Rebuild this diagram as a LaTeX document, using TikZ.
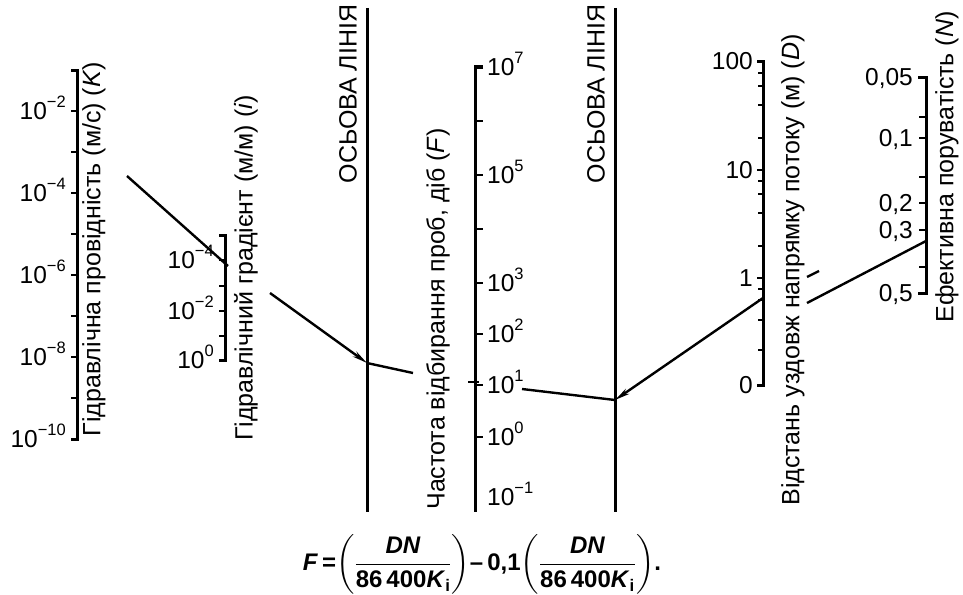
\documentclass[tikz,border=0pt]{standalone}
\usepackage{fontspec}
\setmainfont{Liberation Sans}
\usepackage{amsmath}
\usetikzlibrary{arrows.meta}
\newcommand{\tp}[1]{10\raisebox{0.45em}{\fontsize{16.5}{16.5}\selectfont #1}}
\newcommand{\frc}{\dfrac{\textbf{\textit{DN}}}{\textbf{86\,400\textit{K}\textsubscript{i}}}}
\begin{document}
\begin{tikzpicture}[x=1pt,y=-1pt,
  ax/.style={line width=3pt},
  tk/.style={line width=2.4pt},
  conn/.style={line width=2.4pt},
  num/.style={font=\fontsize{24.5}{26}\selectfont, inner sep=0pt},
  axlab/.style={font=\fontsize{25}{27}\selectfont, rotate=90, inner sep=0pt},
  tip/.style={-{Stealth[length=15pt,width=6pt]}}]
\useasboundingbox (0,0) rectangle (963,594);

% ---------- K axis ----------
\draw[ax] (71,70) -- (77,70) -- (77,439) -- (71,439);
\foreach \y in {111,152,...,398} \draw[tk] (71,\y) -- (77,\y);
\foreach \y/\t in {111/{−2},193/{−4},275/{−6},357/{−8},439/{−10}}
  \node[num, anchor=base east] at (66,\y+8) {\tp{\t}};
\node[axlab] (Klab) at (94,249) {Гідравлічна провідність (м/с) (\textit{K})};

% ---------- i axis ----------
\draw[ax] (219,235) -- (225,235) -- (225,360) -- (219,360);
\foreach \y in {260,286,311,336} \draw[tk] (219,\y) -- (225,\y);
\foreach \y/\t in {260/{−4},311/{−2},360/{0}}
  \node[num, anchor=base east] at (214,\y+8) {\tp{\t}};
\node[axlab] (Ilab) at (246,268) {Гідравлічний градієнт (м/м) (\textit{i})};

% ---------- axial lines ----------
\draw[ax] (367,8) coordinate (A1top) -- (367,512) coordinate (A1bot);
\node[axlab] (A1lab) at (348,94) {ОСЬОВА ЛІНІЯ};
\draw[ax] (615,8) coordinate (A2top) -- (615,512) coordinate (A2bot);
\node[axlab] (A2lab) at (596,94) {ОСЬОВА ЛІНІЯ};

% ---------- F axis ----------
\draw[ax] (483,67) -- (475,67) -- (475,512);
\foreach \y in {121,175,229,283,334,385,437} \draw[tk] (475,\y) -- (483,\y);
\foreach \y/\t in {67/{7},175/{5},283/{3},334/{2},385/{1},437/{0},497/{−1}}
  \node[num, anchor=base west] at (487,\y+8) {\tp{\t}};
\node[axlab] (Flab) at (438,319) {Частота відбирання проб, діб (\textit{F})};

% ---------- D axis ----------
\draw[ax] (757,62) -- (763,62) -- (763,385) -- (757,385);
\foreach \y in {73,86,105,138,181,194,213,246,289,300,320,350} \draw[tk] (758,\y) -- (763,\y);
\draw[tk] (757,170) -- (763,170);
\draw[tk] (757,278) -- (763,278);
\foreach \y/\t in {62/100,170/10,278/1,385/0}
  \node[num, anchor=base east] at (753,\y+8) {\t};
\node[axlab] (Dlab) at (793,270) {Відстань уздовж напрямку потоку (м) (\textit{D})};

% ---------- N axis ----------
\draw[ax] (918,77) -- (926,77) -- (926,293) -- (918,293);
\foreach \y in {117,138,177,203,230,267} \draw[tk] (919,\y) -- (926,\y);
\foreach \y/\t in {77/{0,05},138/{0,1},203/{0,2},230/{0,3},293/{0,5}}
  \node[num, anchor=base east] at (913,\y+8) {\t};
\node[axlab] (Nlab) at (947,167) {Ефективна поруватість (\textit{N})};

% ---------- connector lines ----------
\coordinate (p1) at (127,176);
\coordinate (p2) at (228,266);
\coordinate (p3) at (270,293);
\coordinate (p4) at (367,363);
\coordinate (p5) at (413,373);
\coordinate (p6) at (468,382);
\coordinate (p7) at (479,382);
\coordinate (p8) at (522,389);
\coordinate (p9) at (615,400);
\coordinate (p10) at (763,298);
\coordinate (p11) at (807,303);
\coordinate (p12) at (926,241);
\coordinate (p13) at (807,277);
\coordinate (p14) at (819,271);
\draw[conn] (p1) -- (p2);
\draw[conn, tip] (p3) -- (p4);
\draw[conn] (p4) -- (p5);
\draw[conn] (p6) -- (p7);
\draw[conn] (p8) -- (p9);
\draw[conn, tip] (p10) -- (p9);
\draw[conn] (p11) -- (p12);
\draw[conn] (p13) -- (p14);

% ---------- formula ----------
\node[inner sep=0pt] (formula) at (482,564) {\fontsize{24}{28}\selectfont
 $\textbf{\textit{F}}\,\textbf{=}\biggl(\frc\biggr)\textbf{–\,0,1}\biggl(\frc\biggr)\textbf{.}$};
\end{tikzpicture}
\end{document}
